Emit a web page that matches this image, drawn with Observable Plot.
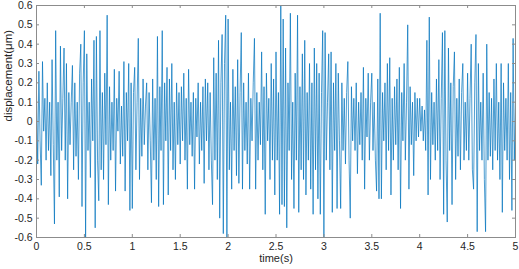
<!DOCTYPE html>
<html>
<head>
<meta charset="utf-8">
<script src="https://cdn.jsdelivr.net/npm/d3@7"></script>
<script src="https://cdn.jsdelivr.net/npm/@observablehq/plot@0.6"></script>
<style>
  html, body { margin: 0; padding: 0; background: #fff; }
  #chart { width: 519px; height: 269px; }
</style>
</head>
<body>
<div id="chart"></div>
<script>
// sampling step of the recorded signal (s)
const timeStep = 0.0125;
// displacement (µm), 0–0.5 s ... 4.5–5 s
const disp0 = [0.15,-0.22,0.26,-0.10,-0.33,0.31,-0.05,0.12,-0.20,0.20,-0.15,0.10,-0.28,0.32,-0.12,-0.53,0.47,-0.20,0.10,-0.39,0.39,-0.15,0.12,0.38,-0.20,0.30,-0.40,0.15,-0.12,0.10,0.29,-0.25,0.20,-0.18,0.10,-0.30,0.25,0.40,-0.44,0.20];
const disp1 = [0.47,-0.60,0.35,-0.15,0.10,-0.29,0.22,-0.10,0.42,-0.55,0.44,-0.20,-0.41,0.47,-0.25,0.15,-0.30,0.25,-0.12,0.55,-0.43,0.18,-0.20,0.10,-0.15,0.27,-0.36,0.12,-0.05,0.26,-0.22,0.08,-0.18,0.31,-0.36,0.15,-0.10,0.30,-0.46,0.20];
const disp2 = [-0.45,0.15,0.28,-0.25,0.10,0.43,-0.30,0.12,-0.18,0.22,-0.12,0.08,0.20,-0.25,0.15,-0.10,-0.42,0.22,-0.20,0.12,-0.30,0.44,-0.44,0.18,-0.15,0.47,-0.43,0.20,-0.10,0.28,-0.38,0.22,-0.15,0.30,-0.25,0.10,-0.30,0.20,-0.12,0.15];
const disp3 = [-0.22,0.18,-0.10,0.25,-0.20,0.12,-0.35,0.27,-0.12,0.10,-0.18,0.15,-0.35,0.12,-0.08,0.20,-0.22,0.10,-0.15,0.18,-0.32,0.22,-0.10,0.20,-0.25,0.15,-0.20,-0.43,0.33,-0.20,0.25,-0.30,0.42,-0.50,0.20,0.45,-0.58,0.30,0.55,-0.60];
const disp4 = [0.53,-0.25,0.10,-0.35,0.27,-0.15,0.18,-0.28,0.32,-0.32,0.15,0.46,-0.35,0.20,-0.15,0.10,-0.22,0.25,-0.35,0.12,-0.10,0.20,0.43,-0.35,0.15,-0.20,0.10,-0.12,0.36,-0.25,0.18,-0.48,0.25,-0.10,0.12,-0.30,0.30,-0.20,0.22,-0.38];
const disp5 = [0.36,-0.20,0.15,-0.48,0.60,-0.43,0.53,-0.44,0.38,-0.55,0.20,-0.15,0.56,-0.30,0.10,-0.45,0.25,-0.20,0.55,-0.47,0.18,-0.25,0.35,-0.30,0.42,-0.38,0.15,-0.20,0.30,-0.35,0.20,-0.48,0.38,-0.25,0.30,-0.40,0.25,-0.48,0.15,0.47];
const disp6 = [-0.60,0.46,-0.20,0.10,0.35,-0.25,0.36,-0.47,0.20,-0.15,0.30,-0.45,0.25,-0.10,-0.45,0.20,-0.15,0.12,-0.22,0.15,0.31,-0.20,-0.50,0.18,-0.10,0.12,-0.15,0.20,-0.27,0.10,-0.12,0.15,-0.20,0.28,-0.35,0.12,-0.08,0.25,-0.20,0.10];
const disp7 = [0.25,-0.15,0.10,-0.20,-0.36,0.22,-0.40,0.56,-0.40,0.15,-0.10,0.20,-0.25,0.30,-0.15,0.33,-0.38,0.12,-0.20,0.18,-0.12,0.22,-0.25,0.28,-0.45,0.15,-0.10,0.30,-0.20,0.10,0.50,-0.35,0.18,-0.12,0.10,-0.28,0.15,-0.10,0.12,-0.08];
const disp8 = [0.12,-0.05,0.08,-0.10,0.06,-0.15,0.42,-0.38,0.54,-0.30,0.15,-0.12,0.10,-0.20,0.22,-0.15,0.32,-0.30,0.12,0.46,-0.48,0.47,-0.20,-0.52,0.38,-0.15,0.20,-0.43,0.18,0.36,-0.30,0.12,-0.18,0.22,-0.25,0.15,0.30,-0.20,0.10,-0.15];
const disp9 = [0.25,-0.20,0.12,0.40,-0.25,-0.35,0.20,0.45,-0.57,0.30,-0.15,0.10,-0.20,0.25,-0.30,-0.57,0.40,-0.20,0.15,-0.18,0.12,-0.25,0.22,-0.15,0.30,-0.20,0.10,-0.30,0.30,-0.47,0.20,-0.15,0.12,-0.20,0.30,-0.30,0.15,-0.46,0.43,-0.20,0.10];

const xTicks = [0, 0.5, 1, 1.5, 2, 2.5, 3, 3.5, 4, 4.5, 5];
const yTicks = [-0.6, -0.5, -0.4, -0.3, -0.2, -0.1, 0, 0.1, 0.2, 0.3, 0.4, 0.5, 0.6];
const xLabel = "time(s)";
const yLabel = "displacement(μm)";

const values = [].concat(disp0, disp1, disp2, disp3, disp4, disp5, disp6, disp7, disp8, disp9);
const data = values.map((v, i) => ({t: +(i * timeStep).toFixed(4), v}));

const W = 519, H = 269;
const mL = 36, mR = 4, mT = 5, mB = 32;
const innerW = W - mL - mR, innerH = H - mT - mB;
const tick = 3;
const frameColor = "#8c8c8c";
const fmt = d => String(+d.toFixed(1));

const chart = Plot.plot({
  width: W, height: H,
  marginLeft: mL, marginRight: mR, marginTop: mT, marginBottom: mB,
  style: {fontFamily: "'Liberation Sans', Arial, Helvetica, sans-serif", fontSize: "10.5px", color: "#262626", background: "#fff"},
  x: {domain: [0, 5]},
  y: {domain: [-0.6, 0.6]},
  marks: [
    Plot.line(data, {x: "t", y: "v", stroke: "#0072BD", strokeWidth: 0.7}),
    Plot.frame({stroke: frameColor, strokeWidth: 1}),
    Plot.tickX(xTicks, {x: d => d, stroke: frameColor, insetTop: innerH - tick}),
    Plot.tickX(xTicks, {x: d => d, stroke: frameColor, insetBottom: innerH - tick}),
    Plot.tickY(yTicks, {y: d => d, stroke: frameColor, insetRight: innerW - tick}),
    Plot.tickY(yTicks, {y: d => d, stroke: frameColor, insetLeft: innerW - tick}),
    Plot.axisX(xTicks, {tickSize: 0, tickPadding: 5, tickFormat: fmt, label: null, fill: "#262626"}),
    Plot.axisY(yTicks, {tickSize: 0, tickPadding: 4, tickFormat: fmt, label: null, fill: "#262626"}),
    Plot.text([xLabel], {frameAnchor: "bottom", dy: 24, fontSize: 11, fill: "#262626"}),
    Plot.text([yLabel], {frameAnchor: "left", dx: -28, rotate: -90, fontSize: 11.5, fill: "#262626"})
  ]
});
document.getElementById("chart").appendChild(chart);
</script>
</body>
</html>
